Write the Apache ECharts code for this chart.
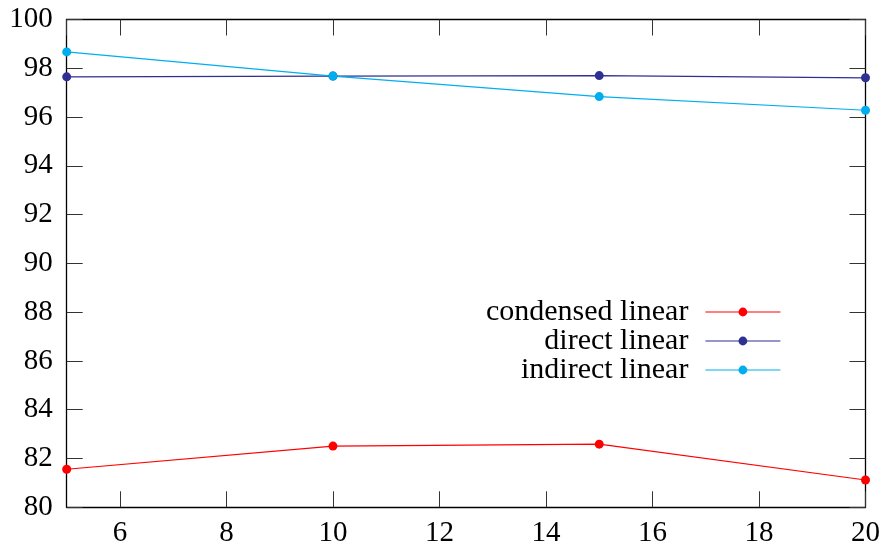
<!DOCTYPE html>
<html><head><meta charset="utf-8">
<script src="https://cdn.jsdelivr.net/npm/echarts@6/dist/echarts.min.js"></script>
<style>html,body{margin:0;padding:0;background:#fff}#c{width:883px;height:549px}</style>
</head><body><div id="c"></div>
<script>
const xValues = [5, 10, 15, 20];
const condensedLinear = [81.56, 82.51, 82.59, 81.12];
const directLinear = [97.65, 97.68, 97.70, 97.61];
const indirectLinear = [98.67, 97.68, 96.84, 96.28];
const seriesNames = ['condensed linear', 'direct linear', 'indirect linear'];
const seriesColors = ['#ff0000', '#2e3192', '#00aeef'];
const seriesData = [condensedLinear, directLinear, indirectLinear];

const FONT = 'Liberation Serif';
const chart = echarts.init(document.getElementById('c'), null, {renderer: 'canvas'});
const tickStyle = {show: true, inside: true, length: 16, lineStyle: {color: '#333', width: 1}};
const axisLine = {show: true, onZero: false, lineStyle: {color: '#000', width: 1.3}};

const legendTops = [297, 326, 355];
const option = {
  backgroundColor: '#fff',
  animation: false,
  grid: {left: 66.7, right: 17, top: 19.5, bottom: 41.7},
  xAxis: [{
    type: 'value', min: 5, max: 20, minInterval: 2, maxInterval: 2,
    axisLine, axisTick: tickStyle, splitLine: {show: false},
    axisLabel: {showMinLabel: false, fontFamily: FONT, fontSize: 29, color: '#000', margin: 12}
  }, {
    type: 'value', position: 'top', min: 5, max: 20, minInterval: 2, maxInterval: 2,
    axisLine, axisTick: tickStyle, splitLine: {show: false}, axisLabel: {show: false}
  }],
  yAxis: [{
    type: 'value', min: 80, max: 100, interval: 2,
    axisLine, axisTick: tickStyle, splitLine: {show: false},
    axisLabel: {fontFamily: FONT, fontSize: 29, color: '#000', margin: 14}
  }, {
    type: 'value', position: 'right', min: 80, max: 100, interval: 2,
    axisLine, axisTick: tickStyle, splitLine: {show: false}, axisLabel: {show: false}
  }],
  legend: seriesNames.map((n, i) => ({
    data: [n], orient: 'vertical', align: 'right', right: 102, top: legendTops[i],
    padding: 0, itemWidth: 75, itemHeight: 11,
    lineStyle: {width: 1.2},
    textStyle: {fontFamily: FONT, fontSize: 30, color: '#000', padding: [0, 12, 0, 0]}
  })),
  series: seriesNames.map((n, i) => ({
    name: n, type: 'line', xAxisIndex: 0, yAxisIndex: 0,
    data: xValues.map((x, j) => [x, seriesData[i][j]]),
    symbol: 'circle', symbolSize: 9, showSymbol: true,
    lineStyle: {color: seriesColors[i], width: 1.2},
    itemStyle: {color: seriesColors[i]},
    emphasis: {disabled: true}
  }))
};
chart.setOption(option);
</script></body></html>
